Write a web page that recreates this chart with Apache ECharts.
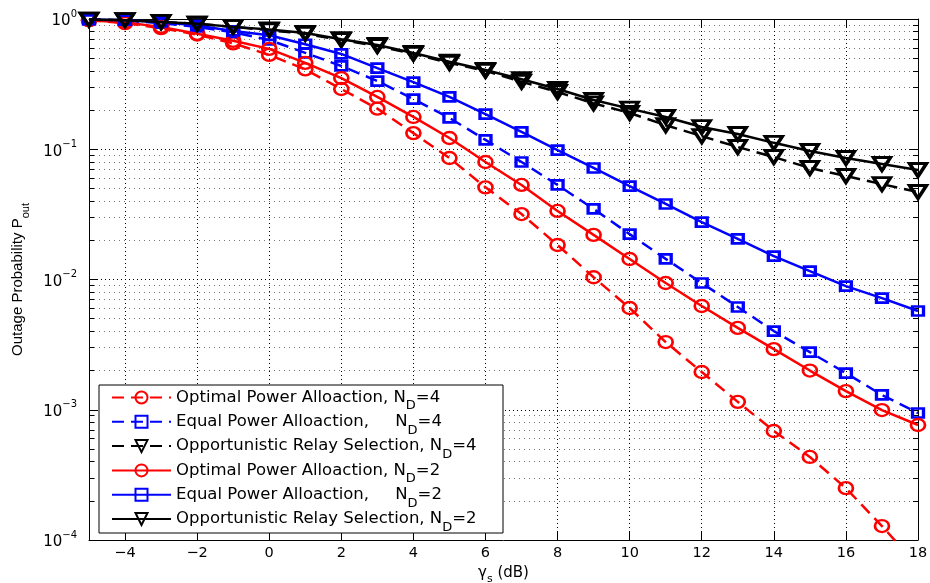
<!DOCTYPE html>
<html><head><meta charset="utf-8">
<script src="https://cdn.jsdelivr.net/npm/echarts@6/dist/echarts.min.js"></script>
<style>html,body{margin:0;padding:0;background:#fff}#c{width:930px;height:583px}</style>
</head><body><div id="c"></div>
<script>
// ---------------- data ----------------
const xValues = [-5,-4,-3,-2,-1,0,1,2,3,4,5,6,7,8,9,10,11,12,13,14,15,16,17,18];
const optND4 = [0.98,0.93,0.85,0.76,0.65,0.53,0.41,0.29,0.205,0.133,0.0857,0.051,0.0318,0.0184,0.0104,0.00604,0.00331,0.00195,0.00115,0.000687,0.000434,0.00025,0.000128,0.000063];
const eqND4  = [0.99,0.97,0.93,0.87,0.79,0.69,0.55,0.436,0.334,0.243,0.174,0.118,0.0798,0.0532,0.0348,0.0223,0.0144,0.0094,0.00615,0.00402,0.00277,0.00191,0.0013,0.000944];
const orsND4 = [0.99,0.98,0.95,0.92,0.87,0.82,0.77,0.69,0.62,0.54,0.46,0.40,0.33,0.275,0.225,0.19,0.153,0.126,0.104,0.0871,0.0718,0.0623,0.054,0.047];
const optND2 = [0.98,0.94,0.87,0.77,0.68,0.59,0.46,0.352,0.252,0.177,0.122,0.0798,0.0532,0.0336,0.022,0.01436,0.0094,0.00626,0.00425,0.00292,0.0020,0.00139,0.000995,0.000764];
const eqND2  = [0.99,0.98,0.95,0.89,0.81,0.75,0.64,0.539,0.42,0.328,0.252,0.186,0.136,0.0986,0.0718,0.0522,0.038,0.0276,0.0205,0.0151,0.0116,0.0089,0.0072,0.00573];
const orsND2 = [0.99,0.98,0.95,0.92,0.87,0.83,0.78,0.70,0.631,0.548,0.47,0.406,0.345,0.29,0.239,0.205,0.177,0.148,0.131,0.112,0.097,0.0857,0.077,0.0693];
const seriesNames = [
  'Optimal Power Alloaction, N_D=4',
  'Equal Power Alloaction,     N_D=4',
  'Opportunistic Relay Selection, N_D=4',
  'Optimal Power Alloaction, N_D=2',
  'Equal Power Alloaction,     N_D=2',
  'Opportunistic Relay Selection, N_D=2'
];
const xTicks = [-4,-2,0,2,4,6,8,10,12,14,16,18];
const yMinor = [];
for (let e = -4; e <= -1; e++) for (let m = 2; m <= 9; m++) yMinor.push(+(m * Math.pow(10, e)).toPrecision(3));

// ---------------- chart ----------------
const FONT = 'DejaVu Sans';
const chart = echarts.init(document.getElementById('c'), null, {renderer: 'canvas'});

function mk(idx, arr, color, symbol, size, dashed, rotate, bw) {
  return {
    name: seriesNames[idx], type: 'line',
    data: xValues.map((x, i) => [x, arr[i]]),
    xAxisIndex: 0, yAxisIndex: 0,
    symbol: symbol, symbolSize: size, symbolRotate: rotate || 0,
    showAllSymbol: true, clip: true,
    lineStyle: {color: color, width: 2.5, type: dashed ? [12, 7] : 'solid'},
    itemStyle: {color: 'rgba(255,255,255,0)', borderColor: color, borderWidth: bw},
    emphasis: {disabled: true},
    z: 2 + idx * 0.1
  };
}

const axLine = {show: true, onZero: false, lineStyle: {color: '#000', width: 1}};
const noLine = {show: false, onZero: false};
const ylab = v => {
  const e = Math.round(Math.log10(v));
  return '{b|10}{s|' + (e === 0 ? '0' : '\u2212' + (-e)) + '}';
};

const option = {
  animation: false,
  backgroundColor: '#fff',
  grid: {left: 89, right: 12, top: 19, bottom: 43, containLabel: false, outerBoundsMode: 'none'},
  xAxis: [
    {type: 'value', min: -5, max: 18, position: 'bottom',
     axisLine: axLine,
     axisTick: {show: true, inside: true, length: 8, customValues: xTicks, lineStyle: {color: '#000'}},
     axisLabel: {customValues: xTicks, margin: 6, color: '#000', fontSize: 14.5, fontFamily: FONT,
                 formatter: v => (v < 0 ? '\u2212' + (-v) : '' + v)},
     splitLine: {show: true, lineStyle: {type: [1, 3], color: '#000', width: 1}},
     name: '{g|\u03b3}{s|s}{g| (dB)}', nameLocation: 'middle', nameGap: 17,
     nameTextStyle: {color: '#000', fontFamily: FONT,
       rich: {g: {fontSize: 15, fontFamily: FONT, color: '#000', lineHeight: 22, verticalAlign: 'middle'},
              s: {fontSize: 11, fontFamily: FONT, color: '#000', lineHeight: 22, verticalAlign: 'bottom'}}}
    },
    {type: 'value', min: -5, max: 18, position: 'top',
     axisLine: axLine,
     axisTick: {show: true, inside: true, length: 8, customValues: xTicks, lineStyle: {color: '#000'}},
     axisLabel: {show: false}, splitLine: {show: false}}
  ],
  yAxis: [
    {type: 'log', logBase: 10, min: 1e-4, max: 1, position: 'left',
     axisLine: axLine,
     axisTick: {show: true, inside: true, length: 9, lineStyle: {color: '#000'}},
     axisLabel: {margin: 12, color: '#000', formatter: ylab,
       rich: {b: {fontSize: 15, fontFamily: FONT, color: '#000', lineHeight: 20, verticalAlign: 'bottom'},
              s: {fontSize: 10, fontFamily: FONT, color: '#000', lineHeight: 20, verticalAlign: 'top'}}},
     splitLine: {show: true, lineStyle: {type: [1, 3], color: '#000', width: 1}},
     name: '{a|Outage Probability P}{o|out}', nameLocation: 'middle', nameGap: 58, nameRotate: 90,
     nameTextStyle: {color: '#000',
       rich: {a: {fontSize: 15, fontFamily: 'Liberation Sans', color: '#000', lineHeight: 26, verticalAlign: 'middle'},
              o: {fontSize: 11, fontFamily: 'Liberation Sans', color: '#000', lineHeight: 26, verticalAlign: 'bottom'}}}
    },
    {type: 'log', logBase: 10, min: 1e-4, max: 1, position: 'left',
     axisLine: noLine,
     axisTick: {show: true, inside: true, length: 5, customValues: yMinor, lineStyle: {color: '#000'}},
     axisLabel: {show: false},
     splitLine: {show: true, lineStyle: {type: [1, 4], color: '#777', width: 1}}},
    {type: 'log', logBase: 10, min: 1e-4, max: 1, position: 'right',
     axisLine: axLine,
     axisTick: {show: true, inside: true, length: 9, lineStyle: {color: '#000'}},
     axisLabel: {show: false}, splitLine: {show: false}},
    {type: 'log', logBase: 10, min: 1e-4, max: 1, position: 'right',
     axisLine: noLine,
     axisTick: {show: true, inside: true, length: 5, customValues: yMinor, lineStyle: {color: '#000'}},
     axisLabel: {show: false}, splitLine: {show: false}}
  ],
  legend: {
    orient: 'vertical', left: 111, top: 389, padding: 0,
    itemWidth: 59, itemHeight: 15, itemGap: 0.8,
    data: seriesNames,
    formatter: n => '{t|' + n.replace('N_D', 'N}{d|D}{t|') + '}',
    textStyle: {color: '#000', fontFamily: FONT, fontSize: 16.5,
      rich: {t: {fontSize: 16.5, fontFamily: FONT, color: '#000', lineHeight: 30, verticalAlign: 'middle'},
             d: {fontSize: 13, fontFamily: FONT, color: '#000', lineHeight: 30, verticalAlign: 'bottom'}}},
    selectedMode: false
  },
  graphic: [{type: 'rect', z: 3, shape: {x: 99, y: 385, width: 404, height: 148},
             style: {fill: '#fff', stroke: '#000', lineWidth: 1}}],
  series: [
    mk(0, optND4, '#ff0000', 'circle', [14, 12], true, 0, 2.5),
    mk(1, eqND4, '#0000ff', 'rect', [11, 9], true, 0, 3),
    mk(2, orsND4, '#000000', 'triangle', [17, 13], true, 180, 3.3),
    mk(3, optND2, '#ff0000', 'circle', [14, 12], false, 0, 2.5),
    mk(4, eqND2, '#0000ff', 'rect', [11, 9], false, 0, 3),
    mk(5, orsND2, '#000000', 'triangle', [17, 13], false, 180, 3.3)
  ]
};
chart.setOption(option);
</script>
</body></html>
